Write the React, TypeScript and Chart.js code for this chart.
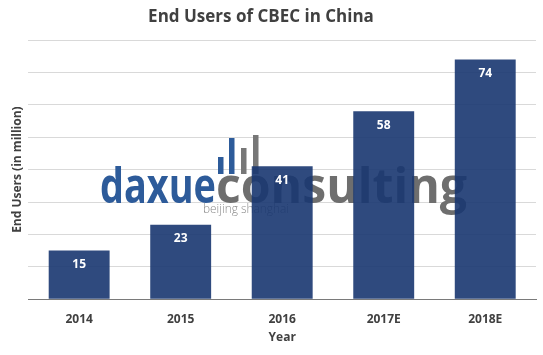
import React, { useEffect, useRef } from "react";
import { Chart, registerables } from "chart.js";

Chart.register(...registerables);

const categories = ["2014", "2015", "2016", "2017E", "2018E"];
const endUsers = [15, 23, 41, 58, 74];
const yMax = 80;
const yStep = 10;
const chartTitle = "End Users of CBEC in China";

const FONT = '"Open Sans", "DejaVu Sans", sans-serif';
const TEXT = "#404040";

const titlePlugin = {
  id: "customTitle",
  afterDraw(chart: any) {
    const ctx = chart.ctx as CanvasRenderingContext2D;
    ctx.save();
    ctx.font = "700 17px " + FONT;
    ctx.fillStyle = TEXT;
    ctx.textAlign = "center";
    ctx.textBaseline = "middle";
    ctx.fillText(chartTitle, 261, 17);
    ctx.restore();
  },
};

const watermarkPlugin = {
  id: "watermark",
  beforeDatasetsDraw(chart: any) {
    const ctx = chart.ctx as CanvasRenderingContext2D;
    ctx.save();
    const icon = [
      { x: 218, top: 157, c: "#2d5b9a" },
      { x: 229, top: 138, c: "#2d5b9a" },
      { x: 241, top: 148, c: "#777777" },
      { x: 253, top: 135, c: "#777777" },
    ];
    icon.forEach((b) => {
      ctx.fillStyle = b.c;
      ctx.fillRect(b.x, b.top, 5.5, 174 - b.top);
    });
    ctx.font = "700 49px " + FONT;
    ctx.textBaseline = "alphabetic";
    ctx.textAlign = "left";
    const w1 = ctx.measureText("daxue").width;
    const w2 = ctx.measureText("consulting").width;
    ctx.save();
    ctx.translate(100, 203);
    ctx.scale(116 / w1, 1);
    ctx.fillStyle = "#2d5b9a";
    ctx.fillText("daxue", 0, 0);
    ctx.restore();
    ctx.save();
    ctx.translate(216, 203);
    ctx.scale(251 / w2, 1);
    ctx.fillStyle = "#6e6e6e";
    ctx.fillText("consulting", 0, 0);
    ctx.restore();
    ctx.font = "300 13px " + FONT;
    const w3 = ctx.measureText("beijing shanghai").width;
    ctx.save();
    ctx.translate(203, 213);
    ctx.scale(86 / w3, 1);
    ctx.fillStyle = "#8a8a8a";
    ctx.fillText("beijing shanghai", 0, 0);
    ctx.restore();
    ctx.restore();
  },
};

const labelPlugin = {
  id: "barLabels",
  afterDatasetsDraw(chart: any) {
    const ctx = chart.ctx as CanvasRenderingContext2D;
    const meta = chart.getDatasetMeta(0);
    ctx.save();
    ctx.font = "700 12px " + FONT;
    ctx.fillStyle = "#ffffff";
    ctx.textAlign = "center";
    ctx.textBaseline = "middle";
    meta.data.forEach((bar: any, i: number) => {
      ctx.fillText(String(endUsers[i]), bar.x, bar.y + 14);
    });
    ctx.restore();
  },
};

export default function App() {
  const canvasRef = useRef<HTMLCanvasElement | null>(null);

  useEffect(() => {
    document.body.style.margin = "0";
    const canvas = canvasRef.current;
    if (!canvas) return;
    const chart = new Chart(canvas, {
      type: "bar",
      data: {
        labels: categories,
        datasets: [
          {
            label: "End Users",
            data: endUsers,
            backgroundColor: "rgba(24,54,112,0.9)",
            borderWidth: 0,
            barPercentage: 0.6,
            categoryPercentage: 1,
          },
        ],
      },
      options: {
        animation: false,
        responsive: false,
        maintainAspectRatio: false,
        devicePixelRatio: 1,
        layout: { padding: { left: 6, right: 7, top: 40, bottom: 6 } },
        plugins: {
          legend: { display: false },
          tooltip: { enabled: false },
          title: { display: false },
        },
        scales: {
          x: {
            grid: { display: false, drawTicks: false },
            border: { display: true, color: "#7a7a7a", width: 1 },
            ticks: {
              color: TEXT,
              font: { family: FONT, size: 12, weight: "bold" },
              padding: 13,
            },
            title: {
              display: true,
              text: "Year",
              color: TEXT,
              font: { family: FONT, size: 12, weight: "bold" },
              padding: { top: -9, bottom: 4 },
            },
          },
          y: {
            min: 0,
            max: yMax,
            ticks: { display: false, stepSize: yStep },
            grid: {
              color: "#d9d9d9",
              drawTicks: false,
            },
            border: { display: false },
            title: {
              display: true,
              text: "End Users (in million)",
              color: TEXT,
              font: { family: FONT, size: 12, weight: "bold" },
              padding: { top: 4, bottom: 4 },
            },
          },
        },
      },
      plugins: [watermarkPlugin, labelPlugin, titlePlugin],
    });
    return () => chart.destroy();
  }, []);

  return (
    <div style={{ width: 543, height: 355 }}>
      <canvas ref={canvasRef} width={543} height={355} style={{ width: 543, height: 355, display: "block" }} />
    </div>
  );
}
